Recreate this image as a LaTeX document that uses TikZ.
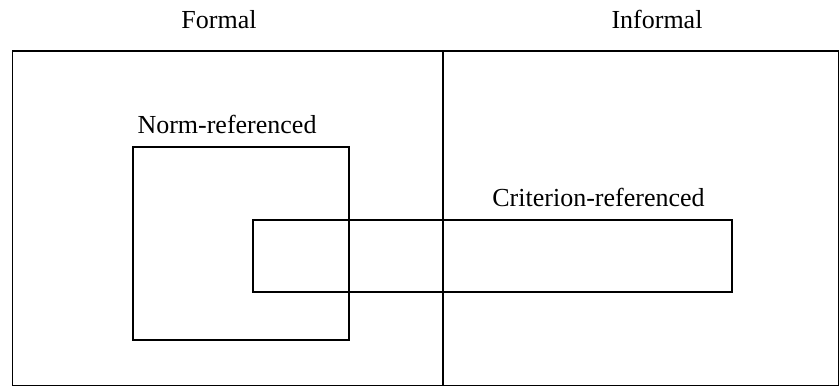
\documentclass[tikz,border=0pt]{standalone}
\usepackage{fontspec}
\setmainfont{Liberation Serif}
\begin{document}
\begin{tikzpicture}[x=0.5pt,y=-0.5pt,
  box/.style={draw=black,line width=0.9pt},
  lbl/.style={font=\fontsize{13}{15}\selectfont,anchor=base,inner sep=0pt}]
\useasboundingbox (0,0) rectangle (840,387);
\draw[box] (12.5,51) rectangle (838.5,385.5);
\coordinate (mtop) at (443,51);
\coordinate (mbot) at (443,385.5);
\draw[box] (mtop) -- (mbot);
\node[lbl] (formal) at (219,28) {Formal};
\node[lbl] (informal) at (657,28) {Informal};
\node[box,minimum width=108pt,minimum height=96.5pt,inner sep=0pt,anchor=north west] (norm) at (132,146) {};
\node[box,minimum width=239.5pt,minimum height=36pt,inner sep=0pt,anchor=north west] (crit) at (252,219) {};
\node[lbl] (normlbl) at (227,133) {Norm-referenced};
\node[lbl] (critlbl) at (598.5,206) {Criterion-referenced};
\end{tikzpicture}
\end{document}
